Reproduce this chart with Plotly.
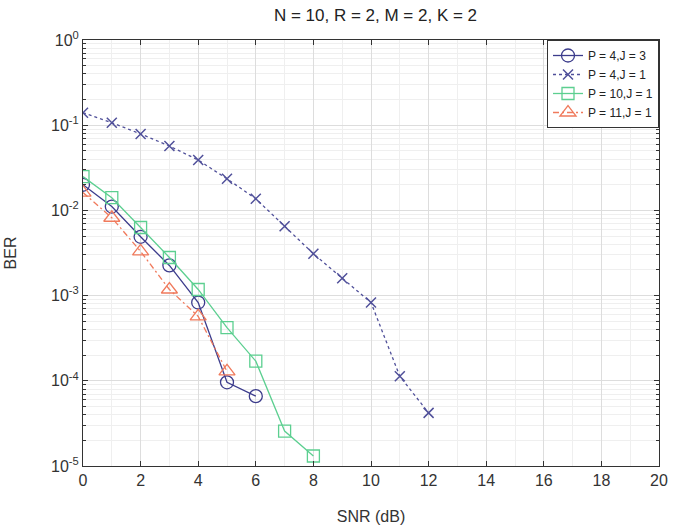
import plotly.graph_objects as go

snr_a = [0, 1, 2, 3, 4, 5, 6]
ber_a = [0.020, 0.0111, 0.0049, 0.00226, 0.00083, 9.6e-5, 6.6e-5]

snr_b = [0, 1, 2, 3, 4, 5, 6, 7, 8, 9, 10, 11, 12]
ber_b = [0.14, 0.107, 0.079, 0.057, 0.039, 0.0235, 0.0137, 0.0065, 0.0031,
         0.0016, 0.00083, 1.13e-4, 4.2e-5]

snr_c = [0, 1, 2, 3, 4, 5, 6, 7, 8]
ber_c = [0.0249, 0.0141, 0.0063, 0.0028, 0.00118, 4.2e-4, 1.7e-4, 2.57e-5, 1.31e-5]

snr_d = [0, 1, 2, 3, 4, 5]
ber_d = [0.0162, 0.0082, 0.0033, 0.00118, 5.7e-4, 1.29e-4]

names = ["P = 4,J = 3", "P = 4,J = 1", "P = 10,J = 1", "P = 11,J = 1"]

x_ticks = list(range(0, 21, 2))
y_exps = [0, -1, -2, -3, -4, -5]

FONT = "Liberation Sans, Arial"

fig = go.Figure()
fig.add_trace(go.Scatter(x=snr_a, y=ber_a, name=names[0], mode="lines+markers",
                         line=dict(color="#3c3c8c", width=1.3),
                         marker=dict(symbol="circle-open", size=13,
                                     line=dict(color="#3c3c8c", width=1.3))))
fig.add_trace(go.Scatter(x=snr_b, y=ber_b, name=names[1], mode="lines+markers",
                         line=dict(color="#50509a", width=1.3, dash="3px,3px"),
                         marker=dict(symbol="x-thin-open", size=10,
                                     line=dict(color="#50509a", width=1.5))))
fig.add_trace(go.Scatter(x=snr_c, y=ber_c, name=names[2], mode="lines+markers",
                         line=dict(color="#5ccf90", width=1.3),
                         marker=dict(symbol="square-open", size=12,
                                     line=dict(color="#5ccf90", width=1.3))))
fig.add_trace(go.Scatter(x=snr_d, y=ber_d, name=names[3], mode="lines+markers",
                         line=dict(color="#f07a5c", width=1.3, dash="6px,3px,2px,3px"),
                         marker=dict(symbol="triangle-up-open", size=14,
                                     line=dict(color="#f07a5c", width=1.3))))

minor_y = [k * 10 ** e for e in range(-5, 0) for k in range(2, 10)]
axis_common = dict(showline=True, linecolor="#333333", linewidth=1, mirror="ticks",
                   ticks="inside", ticklen=5, tickcolor="#333333",
                   showgrid=True, gridcolor="#dddddd", gridwidth=1, zeroline=False,
                   tickfont=dict(family=FONT, size=16, color="#333333"))

fig.update_xaxes(range=[0, 20], tickvals=x_ticks, ticktext=[str(v) for v in x_ticks],
                 title=dict(text="SNR (dB)", font=dict(family=FONT, size=16, color="#333333"), standoff=22),
                 minor=dict(dtick=1, showgrid=True, gridcolor="#efefef", ticks=""),
                 **axis_common)
fig.update_yaxes(type="log", range=[-5, 0],
                 tickvals=[10 ** e for e in y_exps],
                 ticktext=["10<sup>%d</sup>" % e for e in y_exps],
                 title=dict(text="BER", font=dict(family=FONT, size=16, color="#333333"), standoff=30),
                 minor=dict(tickvals=minor_y, showgrid=True, gridcolor="#efefef",
                            ticks="inside", ticklen=3, tickcolor="#333333"),
                 **axis_common)

fig.update_layout(
    width=677, height=531,
    margin=dict(l=83, r=9, t=40, b=64),
    paper_bgcolor="white", plot_bgcolor="white",
    title=dict(text="N = 10, R = 2, M = 2, K = 2", x=(83 + 668) / 2 / 677, xanchor="center",
               y=1 - 15 / 531, yanchor="middle",
               font=dict(family=FONT, size=17, color="#222222")),
    legend=dict(x=1, xanchor="right", y=1, yanchor="top",
                bgcolor="white", bordercolor="#333333", borderwidth=1,
                font=dict(family=FONT, size=12, color="#222222"),
                itemwidth=30, tracegroupgap=0),
    showlegend=True,
)

fig.write_html("out.html")
